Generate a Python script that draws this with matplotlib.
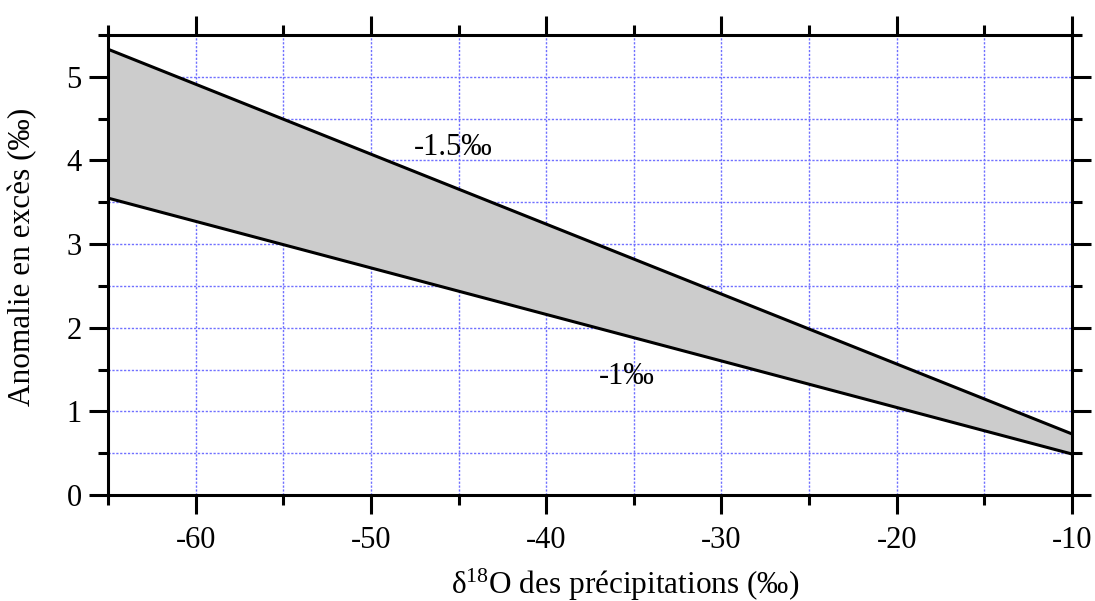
import matplotlib
matplotlib.use("Agg")
import matplotlib.pyplot as plt
from matplotlib.ticker import MultipleLocator

plt.rcParams['font.family'] = ['Liberation Serif', 'DejaVu Serif']
plt.rcParams['mathtext.default'] = 'regular'
plt.rcParams['axes.unicode_minus'] = False

# Data
x_vals = [-65, -10]
upper_vals = [5.33, 0.73]   # -1.5 permil
lower_vals = [3.55, 0.49]   # -1 permil
label_upper = "-1.5‰"
label_lower = "-1‰"
xlabel = r"δ$^{18}$O des précipitations (‰)"
ylabel = "Anomalie en excès (‰)"

fig = plt.figure(figsize=(10.95, 6.01), dpi=100)
ax = fig.add_axes([108/1095, 1 - 495/601, (1072-108)/1095, (495-35)/601])

ax.fill_between(x_vals, lower_vals, upper_vals, color='#cccccc', zorder=2, lw=0)
ax.plot(x_vals, upper_vals, color='black', lw=2.2, zorder=3)
ax.plot(x_vals, lower_vals, color='black', lw=2.2, zorder=3)

ax.set_xlim(-65, -10)
ax.set_ylim(0, 5.5)
ax.xaxis.set_major_locator(MultipleLocator(10))
ax.xaxis.set_minor_locator(MultipleLocator(5))
ax.yaxis.set_major_locator(MultipleLocator(1))
ax.yaxis.set_minor_locator(MultipleLocator(0.5))

ax.grid(True, which='both', color='#7070ff', lw=1.0, linestyle=(0, (1.6, 1.2)), zorder=1)
ax.set_axisbelow(True)

for s in ax.spines.values():
    s.set_linewidth(2.2)
    s.set_zorder(4)

ax.tick_params(which='both', direction='out', top=True, right=True, width=2.2)
ax.tick_params(which='major', length=14, labelsize=22)
ax.tick_params(axis='x', which='major', pad=8)
ax.tick_params(axis='y', which='major', pad=5)
ax.tick_params(which='minor', length=7)

fig.text(625/1095, 1 - 594/601, xlabel, fontsize=22.5, ha='center', va='baseline')
fig.text(23/1095, 1 - 257/601, ylabel, fontsize=22.5, ha='center', va='center', rotation=90)

ax.text(-45.3, 4.15, label_upper, fontsize=22, ha='center', va='center', zorder=5)
ax.text(-35.4, 1.42, label_lower, fontsize=22, ha='center', va='center', zorder=5)

fig.savefig("out.png", dpi=100)
